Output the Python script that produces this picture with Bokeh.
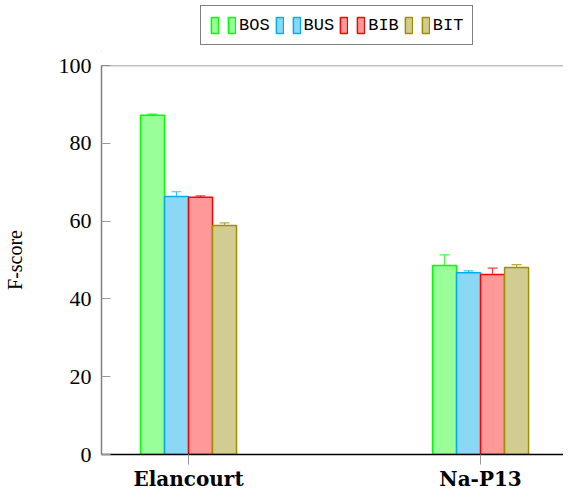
from bokeh.plotting import figure
from bokeh.layouts import column
from bokeh.models import (ColumnDataSource, Range1d, FixedTicker, Whisker, TeeHead,
                          Legend, LegendItem, Span)
from bokeh.embed import file_html
from bokeh.resources import INLINE

categories = ["Elancourt", "Na-P13"]
series = ["BOS", "BUS", "BIB", "BIT"]
values = {
    "BOS": [87.2, 48.6],
    "BUS": [66.3, 46.7],
    "BIB": [66.1, 46.3],
    "BIT": [58.9, 48.1],
}
errors = {
    "BOS": [0.3, 2.7],
    "BUS": [1.25, 0.5],
    "BIB": [0.4, 1.6],
    "BIT": [0.65, 0.7],
}
y_ticks = [0, 20, 40, 60, 80, 100]

line_colors = {"BOS": "#00FF00", "BUS": "#00AEEF", "BIB": "#FF0000", "BIT": "#9C9000"}
fill_colors = {"BOS": "#99FF99", "BUS": "#8AD8F4", "BIB": "#FF9999", "BIT": "#D3CC92"}

x_pos = list(range(len(categories)))
bar_w = 0.0822

# legend strip
lf = figure(output_backend="svg", toolbar_location=None, width=558, height=52,
            x_range=Range1d(0, 1), y_range=Range1d(0, 1),
            min_border=0, min_border_left=96, x_axis_location=None, y_axis_location=None)
lf.xgrid.visible = False
lf.ygrid.visible = False
lf.outline_line_color = None

p = figure(output_backend="svg", toolbar_location=None,
           frame_width=462, frame_height=389,
           x_range=Range1d(-0.298, 1.284), y_range=Range1d(0, 100),
           min_border_left=96, min_border_right=0, min_border_top=13,
           min_border_bottom=0)

items = []
for i, s in enumerate(series):
    off = (i - 1.5) * bar_w
    xs = [x + off for x in x_pos]
    src = ColumnDataSource(dict(
        x=xs, top=values[s],
        upper=[v + e for v, e in zip(values[s], errors[s])],
        lower=[v - e for v, e in zip(values[s], errors[s])]))
    p.vbar(x="x", top="top", width=bar_w, bottom=0, source=src,
           fill_color=fill_colors[s], line_color=line_colors[s], line_width=1.5)
    w = Whisker(base="x", upper="upper", lower="lower", source=src,
                line_color=line_colors[s], line_alpha=0.75, line_width=1.2,
                upper_head=TeeHead(size=10, line_color=line_colors[s], line_alpha=0.75, line_width=1.2),
                lower_head=TeeHead(size=10, line_color=line_colors[s], line_alpha=0.75, line_width=1.2))
    p.add_layout(w)
    # hidden proxy bars (outside the strip's visible range) for the legend icons
    lr = lf.vbar(x=[-5], top=[-5], bottom=[-6], width=0.1, fill_color=fill_colors[s],
                 line_color=line_colors[s], line_width=1.5)
    items.append(LegendItem(label="", renderers=[lr]))
    items.append(LegendItem(label=s, renderers=[lr]))

legend = Legend(items=items, orientation="horizontal", location=(99, 7),
                label_text_font="Liberation Mono", label_text_font_size="17px",
                label_text_color="black", label_width=0, label_height=20,
                glyph_width=9, glyph_height=20, label_standoff=3, spacing=5,
                padding=9, margin=0, border_line_color="black", border_line_width=1.2,
                background_fill_alpha=1)
lf.add_layout(legend)

p.xgrid.visible = False
p.ygrid.visible = False
p.outline_line_color = None

p.xaxis.ticker = FixedTicker(ticks=x_pos)
p.xaxis.major_label_overrides = {i: c for i, c in enumerate(categories)}
p.xaxis.major_label_text_font = "DejaVu Serif"
p.xaxis.major_label_text_font_style = "bold"
p.xaxis.major_label_text_font_size = "20px"
p.xaxis.major_label_text_color = "black"
p.xaxis.axis_line_color = "black"
p.xaxis.axis_line_width = 1.5
p.xaxis.major_tick_line_color = "#999999"
p.xaxis.major_tick_in = 0
p.xaxis.major_tick_out = 10
p.xaxis.minor_tick_line_color = None
p.xaxis.major_label_standoff = 2

p.yaxis.ticker = FixedTicker(ticks=y_ticks)
p.yaxis.major_label_text_font = "Liberation Serif"
p.yaxis.major_label_text_font_size = "22px"
p.yaxis.major_label_text_color = "black"
p.yaxis.axis_line_color = "#808080"
p.yaxis.axis_line_width = 1.5
p.yaxis.major_tick_line_color = "#999999"
p.yaxis.major_tick_in = 9
p.yaxis.major_tick_out = 0
p.yaxis.minor_tick_line_color = None
p.yaxis.major_label_standoff = 10
p.yaxis.axis_label = "F-score"
p.yaxis.axis_label_text_font = "Liberation Serif"
p.yaxis.axis_label_text_font_style = "normal"
p.yaxis.axis_label_text_font_size = "20px"
p.yaxis.axis_label_text_color = "black"
p.yaxis.axis_label_standoff = 30

p.add_layout(Span(location=100, dimension="width", line_color="#808080", line_width=1.5))

layout = column(lf, p, spacing=0)
open("out.html", "w").write(file_html(layout, INLINE))
